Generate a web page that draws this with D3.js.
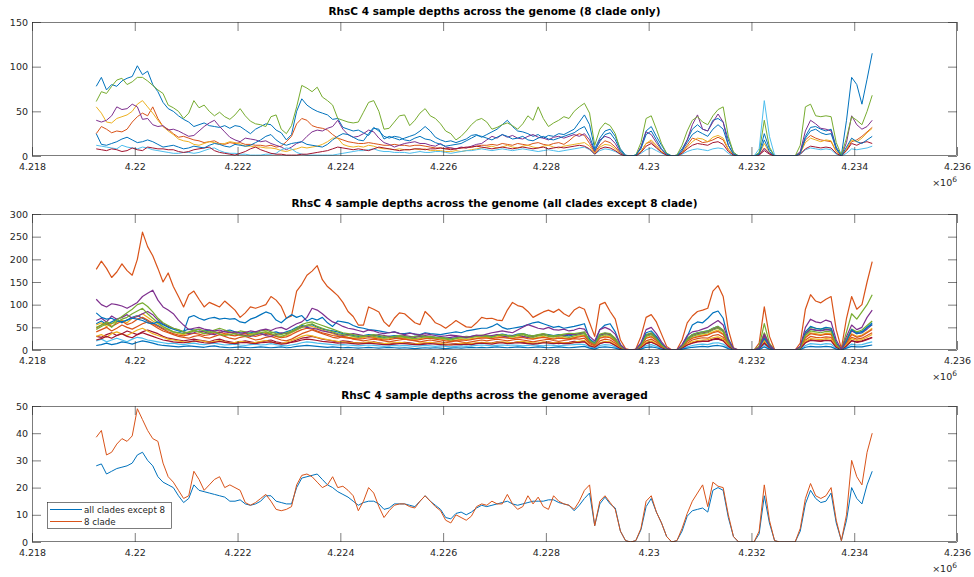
<!DOCTYPE html>
<html>
<head>
<meta charset="utf-8">
<script src="https://cdn.jsdelivr.net/npm/d3@7"></script>
<style>
  body { margin: 0; background: #fff; }
  svg { display: block; font-family: "DejaVu Sans", sans-serif; }
</style>
</head>
<body>
<svg id="chart" width="974" height="577"></svg>
<script>
// depth samples every 100 bp starting at 4219250
const startPos = 4219250, stepBp = 100;
const xTicks = [4218000, 4220000, 4222000, 4224000, 4226000, 4228000, 4230000, 4232000, 4234000, 4236000];
const titles = [
  "RhsC 4 sample depths across the genome (8 clade only)",
  "RhsC 4 sample depths across the genome (all clades except 8 clade)",
  "RhsC 4 sample depths across the genome averaged"
];
const yTicksTop = [0, 50, 100, 150];
const yTicksMid = [0, 50, 100, 150, 200, 250, 300];
const yTicksBot = [0, 10, 20, 30, 40, 50];
const legendLabels = ["all clades except 8", "8 clade"];
const colorOrder = ["#0072BD", "#D95319", "#EDB120", "#7E2F8E", "#77AC30", "#4DBEEE", "#A2142F"];

// ---- panel 1: 8 clade samples ----
const c8Blue = [78,88,74,80,78,84,87,89,101,91, 95,80,72,60,53,50,45,41,38,33, 35,37,34,33,32,34,31,34,33,29,
  25,30,33,36,35,29,26,18,24,50, 64,57,53,50,48,46,41,42,32,30, 28,29,26,23,31,30,19,22,20,18,
  20,22,24,28,33,28,21,18,16,17, 15,17,19,23,24,21,24,27,30,35, 40,33,28,27,25,22,24,20,23,22,
  25,24,27,30,38,46,35,8,20,28, 30,22,8,1,0,1,10,28,33,22, 12,3,0,1,8,18,30,35,30,28,
  40,42,38,18,4,0,0,0,0,3, 25,8,0,0,0,0,0,4,22,32, 33,30,28,30,10,1,40,88,80,58, 86,115];
const c8Orange = [25,33,30,26,28,27,30,38,44,48, 45,55,42,33,30,25,21,22,20,18, 17,15,16,17,14,13,15,14,15,13,
  13,12,12,11,12,10,11,16,22,36, 42,40,34,32,31,29,24,20,18,16, 15,14,14,15,14,13,12,12,13,12,
  12,11,12,12,11,10,9,9,8,9, 8,9,9,10,11,12,12,13,12,14, 13,12,14,13,12,14,15,13,12,14,
  15,13,17,22,25,23,14,4,12,17, 15,10,3,0,0,0,5,14,16,10, 5,1,0,0,4,12,20,18,15,16,
  18,21,18,7,1,0,0,0,0,1, 9,3,0,0,0,0,0,4,18,23, 20,18,17,16,5,0,7,16,18,22, 27,32];
const c8Yellow = [55,48,38,37,42,44,46,50,58,62, 55,48,40,33,28,24,19,17,16,13, 12,14,16,15,13,14,16,15,13,11,
  11,10,10,9,9,8,6,5,7,8, 10,9,10,11,13,16,20,20,13,11, 10,11,10,12,11,9,8,8,7,8,
  7,7,8,7,8,6,6,6,5,5, 6,5,6,7,8,9,10,11,9,10, 12,10,9,11,12,10,9,11,12,10,
  9,11,12,13,14,15,11,3,10,13, 12,8,3,0,0,0,5,14,18,12, 5,1,0,0,3,10,16,20,19,16,
  21,23,20,8,1,0,0,0,0,2, 14,4,0,0,0,0,0,3,15,20, 18,16,18,17,5,0,8,18,16,20, 26,31];
const c8Purple = [40,38,40,45,55,52,53,58,55,41, 42,35,33,34,29,30,28,25,22,23, 28,33,37,40,33,27,21,18,16,20,
  19,18,16,17,14,12,10,7,10,14, 16,22,27,29,28,31,33,40,30,24, 21,22,25,29,27,20,15,13,10,12,
  14,15,16,14,14,12,11,14,10,9, 8,10,9,11,13,14,18,22,20,24, 21,23,20,19,22,24,21,20,18,21,
  22,20,22,24,22,25,18,5,18,22, 20,14,4,0,0,0,10,27,24,15, 7,2,0,0,6,18,35,46,30,28,
  38,47,38,12,2,0,0,0,0,1, 8,3,0,0,0,0,0,5,28,40, 36,31,30,28,8,0,15,45,35,30, 33,40];
const c8Green = [61,72,70,78,85,87,80,83,88,88, 84,79,74,70,57,54,50,42,48,62, 54,57,50,45,49,44,41,46,53,45,
  39,36,35,33,44,46,30,25,34,55, 79,76,72,77,66,62,57,42,40,38, 37,38,49,60,62,50,30,31,38,45,
  46,34,40,48,53,45,42,36,28,25, 18,22,28,35,40,42,38,30,32,35, 37,34,30,36,45,40,55,42,33,37,
  40,44,42,50,55,59,48,12,30,37, 34,25,6,0,0,1,15,42,45,30, 14,3,0,1,12,28,40,44,38,35,
  45,52,55,22,4,0,0,0,0,4, 40,10,0,0,0,0,0,12,55,58, 45,44,45,44,15,1,20,44,40,35, 50,68];
const c8LightBlue = [12,11,10,9,8,12,10,9,8,10, 9,7,6,5,4,3,3,4,4,3, 4,6,8,9,6,4,3,3,2,2,
  1,1,1,2,2,3,7,9,8,4, 2,1,1,1,1,1,1,2,3,4, 5,6,6,7,8,6,5,5,4,4,
  4,3,4,5,4,4,5,5,4,3, 4,5,6,6,7,8,7,6,7,8, 7,6,7,8,7,6,5,6,7,6,
  5,6,7,8,9,10,7,2,6,8, 7,5,2,0,0,0,3,7,9,6, 3,1,0,0,2,5,7,8,7,6,
  8,9,8,3,0,0,0,0,0,8, 62,22,1,0,0,0,0,2,7,9, 8,7,8,7,2,0,3,8,7,8, 9,11];
const c8Red = [8,7,6,8,7,5,6,9,7,6, 10,9,8,8,7,7,5,4,5,7, 8,9,10,6,4,3,2,1,3,5,
  8,10,7,5,3,2,2,1,1,1, 2,2,3,4,5,6,8,10,9,8, 7,8,7,6,8,10,9,8,7,6,
  7,7,8,8,7,8,8,9,8,7, 8,9,10,10,11,10,9,8,9,10, 9,8,9,10,9,8,9,10,8,9,
  10,9,10,11,12,11,8,2,8,10, 9,6,2,0,0,0,4,11,14,9, 4,1,0,0,3,8,12,14,13,12,
  15,16,13,5,1,0,0,0,0,1, 6,2,0,0,0,0,0,2,8,11, 10,9,10,9,3,0,6,14,12,15, 16,14];
const c8Blue2 = [25,13,12,14,16,19,21,18,15,16, 18,16,13,10,11,12,10,8,9,11, 10,9,12,14,13,11,10,13,12,11,
  12,15,18,22,24,18,14,12,14,15, 16,13,12,11,10,13,18,22,25,24, 21,18,17,25,32,28,22,20,22,21,
  18,17,20,22,19,18,15,13,11,12, 13,14,17,20,23,22,20,18,21,24, 22,19,20,22,18,17,20,22,19,18,
  20,22,24,26,30,33,22,6,16,24, 26,18,6,0,0,1,8,24,28,18, 8,2,0,0,6,15,24,28,25,22,
  30,35,30,12,2,0,0,0,0,2, 18,5,0,0,0,0,0,3,20,28, 30,26,24,25,8,0,10,20,16,14, 18,22];

// ---- panel 2: all other clades ----
const ocOrange = [178,196,180,160,172,190,175,165,200,260, 228,208,180,150,170,140,118,95,122,130, 112,95,105,100,95,108,98,88,72,82,
  95,92,96,100,118,110,96,70,75,130, 145,165,174,186,155,140,130,120,105,85, 74,55,55,95,90,84,62,52,70,82,
  80,70,60,56,85,74,60,55,48,56, 65,58,51,50,60,72,69,70,66,65, 88,105,98,95,85,72,78,84,88,83,
  90,80,74,88,95,90,60,30,100,105, 85,68,22,3,0,2,30,72,78,62, 35,8,0,1,22,60,75,85,88,92,
  130,142,118,45,5,0,0,0,0,15, 95,30,1,0,0,0,0,15,90,122, 108,104,112,118,45,3,70,118,90,100, 150,195];
const ocPurple = [112,100,95,102,100,97,92,98,105,118, 125,132,110,95,88,80,66,55,45,48, 50,46,44,42,44,40,38,40,37,39,
  42,40,44,46,43,48,50,45,52,58, 62,72,92,88,80,70,62,58,52,48, 46,43,40,44,42,38,36,38,40,36,
  34,37,35,33,36,34,32,30,31,33, 32,30,28,30,33,32,35,38,40,42, 40,38,44,50,56,52,48,46,50,45,
  44,46,42,44,48,46,30,20,45,50, 45,35,12,1,0,1,16,45,50,36, 18,4,0,0,12,32,40,42,46,50,
  58,65,55,22,3,0,0,0,0,5, 35,12,0,0,0,0,0,8,50,68, 62,60,66,62,22,1,30,55,45,50, 72,88];
const ocBlue = [82,72,68,70,64,62,66,70,68,65, 60,58,62,56,50,46,42,40,72,76, 70,66,70,72,68,70,68,69,62,60,
  68,72,78,84,80,66,60,70,78,72, 76,64,70,66,72,60,52,64,62,60, 54,50,48,45,44,42,40,38,40,37,
  36,38,35,34,38,36,35,34,36,38, 40,38,42,44,46,48,48,52,58,50, 46,48,50,52,56,60,62,58,54,50,
  52,48,50,52,55,58,25,15,45,55, 58,40,12,1,0,1,14,38,42,30, 14,3,0,0,10,30,55,62,60,70,
  82,86,70,25,3,0,0,0,0,4, 26,8,0,0,0,0,0,6,40,52, 48,46,50,48,15,1,20,45,36,38, 50,56];
const ocGreen = [50,55,62,58,66,74,82,90,100,104, 96,84,70,60,54,48,45,40,38,42, 40,36,38,40,35,32,34,36,33,30,
  32,35,38,40,36,32,30,34,40,45, 50,55,58,52,48,44,40,36,34,32, 30,28,30,32,30,28,26,27,29,30,
  28,26,25,27,29,30,28,26,24,22, 25,27,26,28,30,31,30,28,32,34, 31,29,32,34,30,28,31,33,30,29,
  32,30,28,31,34,36,20,14,30,34, 32,22,8,0,0,1,10,30,34,24, 11,2,0,0,8,22,30,34,36,38,
  44,48,40,15,2,0,0,0,0,8, 58,15,0,0,0,0,0,5,32,42, 40,38,41,40,12,1,40,80,68,84, 100,122];
const ocYellow = [55,60,52,58,62,66,60,70,75,80, 72,64,58,50,44,40,36,34,38,42, 40,36,38,40,36,34,38,36,32,30,
  34,36,38,40,36,30,28,32,38,44, 50,54,52,48,44,40,36,32,30,28, 27,26,28,30,28,26,24,25,27,28,
  26,24,23,25,27,28,26,24,22,20, 22,24,23,25,27,28,28,26,29,31, 28,26,29,31,27,25,28,30,27,26,
  29,27,25,28,31,33,18,12,27,31, 29,20,7,0,0,1,9,27,31,22, 10,2,0,0,7,20,27,31,33,35,
  40,44,36,14,2,0,0,0,0,6, 30,9,0,0,0,0,0,5,29,38, 36,34,37,36,11,1,18,36,30,33, 40,48];
const ocOrange2 = [40,45,50,42,48,55,50,46,52,58, 62,55,48,42,38,34,30,28,26,30, 32,28,26,30,34,30,26,24,28,30,
  26,22,24,28,30,26,22,20,24,30, 36,40,44,40,36,32,28,26,30,28, 24,22,20,22,24,22,20,18,20,22,
  24,22,20,18,20,22,20,18,16,18, 20,18,16,18,20,22,20,22,24,22, 20,22,24,22,20,18,20,22,24,21,
  19,21,23,25,24,26,14,9,20,24, 22,15,5,0,0,1,7,20,24,17, 8,1,0,0,5,15,22,25,27,26,
  32,34,28,10,1,0,0,0,0,4, 22,7,0,0,0,0,0,4,22,30, 28,27,29,28,8,0,14,28,24,26, 32,38];
const ocRed = [30,28,34,38,32,36,42,38,34,40, 44,40,36,30,26,24,22,20,22,24, 22,20,18,22,24,20,18,16,18,20,
  18,16,18,20,22,18,16,15,18,22, 26,28,30,27,24,22,20,18,20,19, 17,16,15,16,18,16,14,13,15,16,
  17,16,14,13,15,16,15,14,12,13, 14,13,12,13,15,16,15,16,18,17, 15,16,18,17,15,14,15,17,18,16,
  14,16,17,19,18,20,10,7,15,18, 17,11,4,0,0,0,5,15,18,13, 6,1,0,0,4,11,16,19,20,19,
  24,26,21,8,1,0,0,0,0,3, 16,5,0,0,0,0,0,3,17,23, 21,20,22,21,6,0,10,21,18,20, 24,28];
const ocLightBlue = [20,24,18,22,26,22,18,24,28,26, 22,20,18,16,14,15,13,12,14,15, 13,12,14,15,13,11,12,13,11,10,
  12,13,11,12,14,12,10,9,11,13, 16,18,17,15,14,13,12,11,12,11, 10,9,10,11,10,9,8,9,10,9,
  10,9,8,9,10,9,8,9,8,7, 8,9,8,9,10,11,10,9,10,11, 10,11,10,9,10,11,10,9,11,10,
  9,10,11,12,13,12,7,4,10,12, 11,7,2,0,0,0,3,10,12,8, 4,1,0,0,3,7,10,12,13,12,
  15,16,13,5,1,0,0,0,0,2, 12,3,0,0,0,0,0,2,10,14, 13,12,14,13,4,0,6,13,11,12, 15,18];
const ocPurple2 = [65,70,62,75,68,72,78,70,74,80, 85,78,66,58,52,48,44,40,36,38, 42,40,36,34,38,42,40,36,34,32,
  30,34,36,32,30,34,38,36,40,46, 52,50,48,46,42,40,38,34,32,34, 36,34,32,30,32,34,32,30,28,30,
  32,30,28,30,32,30,28,27,26,28, 30,28,27,29,31,32,30,32,34,31, 29,31,33,30,28,30,33,35,32,30,
  31,33,35,34,36,38,20,14,32,36, 34,24,8,0,0,1,11,32,36,26, 12,2,0,0,8,24,32,36,38,40,
  46,50,42,16,2,0,0,0,0,6, 32,10,0,0,0,0,0,6,36,46, 44,42,45,44,14,1,22,42,36,38, 46,56];
const ocBlue2 = [10,12,15,12,14,18,16,13,17,20, 18,15,12,10,9,8,7,8,9,8, 7,6,8,9,7,6,5,6,7,6,
  5,6,7,6,5,6,7,5,6,8, 9,10,9,8,7,6,7,6,5,6, 5,4,5,6,5,4,5,6,5,4,
  5,4,3,4,5,4,5,4,3,4, 5,4,5,6,5,6,5,6,7,6, 5,6,7,6,5,6,7,6,5,6,
  7,6,5,6,7,8,4,2,6,7, 6,4,1,0,0,0,2,6,7,5, 2,0,0,0,2,4,6,7,8,7,
  9,10,8,3,0,0,0,0,0,1, 7,2,0,0,0,0,0,1,6,8, 7,7,8,7,2,0,4,8,7,7, 9,11];
const ocGreen2 = [45,52,58,50,62,68,72,80,86,92, 80,70,60,52,46,40,38,36,40,44, 46,42,40,44,48,44,40,38,42,40,
  36,38,42,44,40,36,34,38,42,48, 56,60,62,58,54,50,46,42,38,36, 34,32,30,32,34,32,30,28,30,32,
  30,28,30,32,30,28,26,28,26,24, 26,28,30,29,31,33,31,29,32,34, 32,30,34,36,33,31,34,36,33,31,
  33,35,37,36,38,40,22,16,35,38, 36,26,9,0,0,1,12,34,38,28, 13,2,0,0,9,26,34,38,40,42,
  48,52,44,17,2,0,0,0,0,7, 38,11,0,0,0,0,0,7,40,50, 48,46,49,48,15,1,24,46,40,44, 54,64];
const ocYellow2 = [30,34,28,36,40,35,32,38,44,48, 42,36,32,28,24,22,20,18,17,19, 21,19,17,19,21,18,16,17,19,18,
  16,17,19,21,18,15,14,17,21,25, 30,33,31,28,25,23,21,19,18,17, 16,15,16,18,17,15,14,15,16,17,
  16,14,13,15,16,17,15,14,13,12, 13,14,15,14,16,17,16,15,17,18, 17,16,18,19,17,15,16,18,17,16,
  17,16,15,17,19,21,11,7,16,19, 18,12,4,0,0,0,6,17,20,14, 6,1,0,0,4,13,18,21,22,23,
  27,29,24,9,1,0,0,0,0,4, 20,6,0,0,0,0,0,3,19,25, 24,23,25,24,7,0,12,25,21,23, 28,34];
const ocOrange3 = [48,55,60,52,58,64,56,60,68,72, 66,58,52,46,40,36,33,31,34,37, 35,32,34,37,40,36,33,31,34,36,
  32,30,33,36,34,30,27,29,34,40, 45,48,46,42,38,35,32,30,28,26, 25,24,25,27,26,24,22,23,25,26,
  24,22,21,23,25,26,24,22,20,19, 21,22,21,23,25,26,26,25,27,28, 26,25,27,28,25,24,26,28,26,24,
  26,25,24,27,29,31,17,11,26,29, 27,19,6,0,0,1,9,26,29,21, 9,2,0,0,6,19,26,29,31,33,
  38,41,34,13,2,0,0,0,0,5, 28,8,0,0,0,0,0,5,27,36, 34,32,35,34,10,1,16,34,28,31, 38,45];
const ocRed2 = [22,25,30,26,32,36,30,27,34,38, 34,30,26,22,20,18,17,16,18,20, 18,16,15,17,19,17,15,14,16,17,
  15,14,16,17,18,15,13,14,17,19, 22,24,23,21,19,18,17,15,16,15, 14,13,14,15,14,13,12,12,13,14,
  14,13,12,12,13,14,13,12,11,11, 12,12,13,12,14,15,14,13,15,16, 14,15,16,15,14,13,14,16,15,14,
  15,14,14,16,17,18,9,6,14,17, 16,10,3,0,0,0,5,14,17,12, 5,1,0,0,4,11,15,18,19,19,
  23,24,20,8,1,0,0,0,0,3, 15,5,0,0,0,0,0,3,16,21, 20,19,21,20,6,0,9,20,17,19, 23,27];
const ocBlue3 = [58,64,56,62,68,60,66,72,76,70, 64,60,54,48,44,40,38,42,46,44, 40,42,44,40,38,42,44,40,38,36,
  38,40,36,34,38,40,36,40,44,50, 54,52,56,50,46,44,42,40,36,34, 32,30,32,34,33,30,28,30,32,31,
  29,28,30,31,29,27,28,29,26,25, 27,29,28,30,32,31,32,30,33,35, 33,32,35,36,33,31,33,35,34,32,
  34,33,31,34,36,39,21,15,33,37, 35,25,8,0,0,1,12,33,37,27, 12,2,0,0,9,25,34,38,40,42,
  48,52,43,16,2,0,0,0,0,7, 34,10,0,0,0,0,0,6,36,46, 44,43,46,44,13,1,21,44,38,41, 50,60];

// ---- panel 3: averages ----
const avgOthers = [28,28.7,25,26,27,27.5,28,29,32,33, 30,28,24,22,21,20,17,14.5,16,21, 19,18.5,18,17.5,17,16.5,15,15,15.5,14,
  13.5,14,15,17,17,15,14.5,14,14,20, 23.5,24,24.5,25,23,21,20,18.5,17.5,16.5, 15,13.5,14.5,15,15,14,12,12.5,14,14,
  14,13.5,13,15,17,15,13.5,12,9,8.5, 10.5,11,10,11,12.5,13.5,13,13.5,14,14.5, 15,14,13.5,14,14.5,15,15,15,15.5,15.5,
  14.5,14,13.5,11.5,13.5,16,18,6,14,16.5, 14,12.5,4,0.5,0,0.5,4.5,13,16,11, 7,2,0,0.5,4,9.5,11.5,12,12.5,11,
  19,20,19,9,2,0,0,0,0,3, 17,7,0.5,0,0,0,0,4,14,19, 16,14.5,15,18,7,0.5,8,20,16,14, 21,26];
const avgClade8 = [38.5,41,32,33,36,38,37,39,49,45, 41,38,37,29,24,22,19,16,17,26, 23,19,21,23,24,20,21,20,19,14.5,
  13.5,14.5,16,17.5,15,12,11.5,12,13,21, 24.5,25,24,22,20,21,24,20,20.5,19, 17,11.5,15,20,18,13,9,11.5,13.5,14,
  14,13,12.5,15,17,15,13,11.5,8,7, 10,9,8,9.5,13,14,13.5,15,14,14, 17.5,14,12,13,17,14,16.5,13,12,17,
  15,14,13.5,12,15,19,21,6,15,17, 14.5,12,4,0.5,0,0.5,5,15,17,11, 7,2,0,0.5,5,10.5,15,18,21,13,
  22,20.5,20,10,2,0,0,0,0,4, 21,8,0.5,0,0,0,0,5,16,21.5, 17,16,17,20,8,0.5,10,30,24,21, 33,40];

const panels = [
  { top: 22, bottom: 156, yMax: 150, yTicks: yTicksTop, title: titles[0], width: 1,
    series: [[c8Blue, 0], [c8Orange, 1], [c8Yellow, 2], [c8Purple, 3], [c8Green, 4], [c8LightBlue, 5], [c8Red, 6], [c8Blue2, 0]] },
  { top: 214, bottom: 350, yMax: 300, yTicks: yTicksMid, title: titles[1], width: 1.2,
    series: [[ocOrange, 1], [ocBlue3, 0], [ocYellow, 2], [ocOrange3, 1], [ocOrange2, 1], [ocRed, 6], [ocYellow2, 2],
             [ocLightBlue, 5], [ocRed2, 6], [ocPurple2, 3], [ocBlue2, 0],
             [ocGreen2, 4], [ocBlue, 0], [ocGreen, 4], [ocPurple, 3]] },
  { top: 406, bottom: 542, yMax: 50, yTicks: yTicksBot, title: titles[2], width: 1,
    series: [[avgOthers, 0], [avgClade8, 1]] }
];

var svg = d3.select("#chart"),
    left = 32, right = 957,
    tickLen = 9,
    axisColor = "#262626";

var x = d3.scaleLinear().domain([4218000, 4236000]).range([left, right]);
var fmt = d3.format(".3~f");

panels.forEach(function (p, k) {
  var y = d3.scaleLinear().domain([0, p.yMax]).range([p.bottom, p.top]);
  var g = svg.append("g");

  var clipId = "clip" + k;
  svg.append("clipPath").attr("id", clipId)
    .append("rect").attr("x", left).attr("y", p.top).attr("width", right - left).attr("height", p.bottom - p.top);

  var line = d3.line()
    .x(function (d, i) { return x(startPos + i * stepBp); })
    .y(function (d) { return y(d); });

  var lines = g.append("g").attr("clip-path", "url(#" + clipId + ")");
  p.series.forEach(function (s) {
    lines.append("path")
      .attr("d", line(s[0]))
      .attr("fill", "none")
      .attr("stroke", colorOrder[s[1]])
      .attr("stroke-width", p.width)
      .attr("stroke-linejoin", "round");
  });

  // box and inward ticks
  g.append("rect")
    .attr("x", left + 0.5).attr("y", p.top + 0.5)
    .attr("width", right - left - 1).attr("height", p.bottom - p.top - 1)
    .attr("fill", "none").attr("stroke", axisColor).attr("stroke-width", 0.6);

  var ax = d3.axisBottom(x).tickValues(xTicks).tickFormat(function (d) { return fmt(d / 1e6); })
    .tickSizeInner(-tickLen).tickSizeOuter(0).tickPadding(10);
  var gx = g.append("g").attr("transform", "translate(0," + p.bottom + ")").call(ax);
  var axTop = d3.axisTop(x).tickValues(xTicks).tickFormat("").tickSizeInner(-tickLen).tickSizeOuter(0);
  var gxt = g.append("g").attr("transform", "translate(0," + p.top + ")").call(axTop);

  var ay = d3.axisLeft(y).tickValues(p.yTicks).tickSizeInner(-tickLen).tickSizeOuter(0).tickPadding(4);
  var gy = g.append("g").attr("transform", "translate(" + left + ",0)").call(ay);
  var ayr = d3.axisRight(y).tickValues(p.yTicks).tickFormat("").tickSizeInner(-tickLen).tickSizeOuter(0);
  var gyr = g.append("g").attr("transform", "translate(" + right + ",0)").call(ayr);

  [gx, gxt, gy, gyr].forEach(function (a) {
    a.select(".domain").remove();
    a.selectAll("line").attr("stroke", axisColor).attr("stroke-width", 0.6);
    a.selectAll("text").attr("fill", axisColor).style("font-size", "9.5px").style("font-family", "DejaVu Sans");
  });
  gx.selectAll("text").attr("dy", "0.45em");

  // x10^6 exponent label
  var ex = g.append("text")
    .attr("x", right).attr("y", p.bottom + 30)
    .attr("text-anchor", "end")
    .attr("fill", axisColor)
    .style("font-size", "9.5px");
  ex.append("tspan").text("\u00d710");
  ex.append("tspan").attr("dy", -4).style("font-size", "7.5px").text("6");

  g.append("text")
    .attr("x", (left + right) / 2).attr("y", p.top - 7)
    .attr("text-anchor", "middle")
    .attr("fill", "#000")
    .style("font-size", "10.5px").style("font-weight", "bold")
    .text(p.title);

  if (k === 2) {
    var lg = g.append("g").attr("transform", "translate(47,502)");
    lg.append("rect").attr("x", 0.5).attr("y", 0.5).attr("width", 124).attr("height", 26)
      .attr("fill", "#fff").attr("stroke", axisColor).attr("stroke-width", 0.6);
    legendLabels.forEach(function (lab, j) {
      var yy = 7.5 + j * 12;
      lg.append("line").attr("x1", 3).attr("x2", 35).attr("y1", yy).attr("y2", yy)
        .attr("stroke", colorOrder[j]).attr("stroke-width", 1);
      lg.append("text").attr("x", 37).attr("y", yy).attr("dy", "0.35em")
        .attr("fill", axisColor).style("font-size", "8.7px").text(lab);
    });
  }
});
</script>
</body>
</html>
